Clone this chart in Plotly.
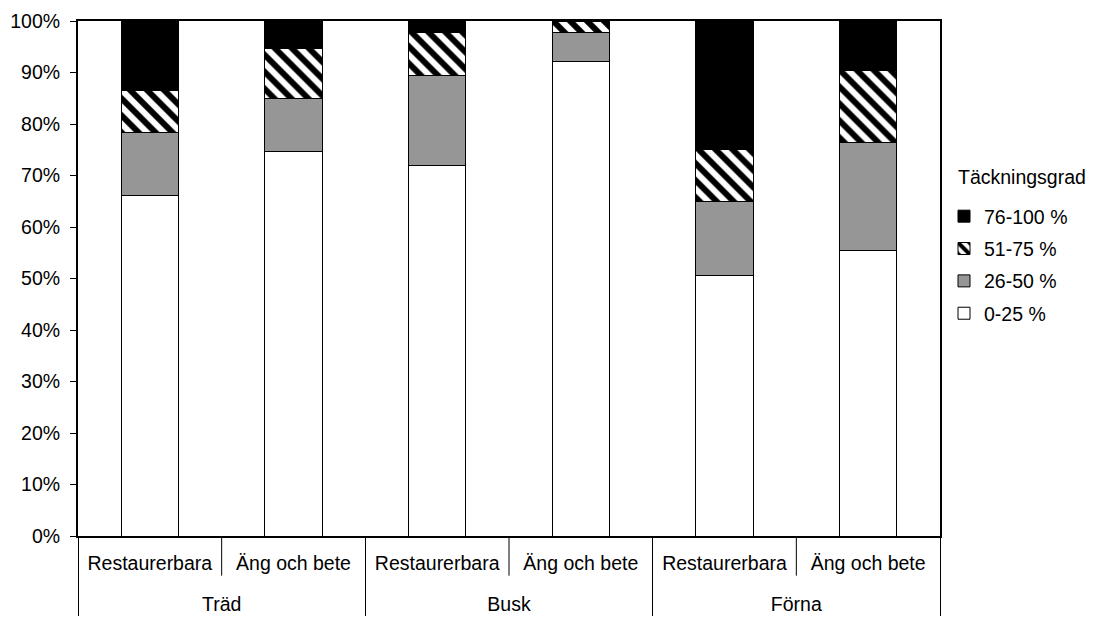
import plotly.graph_objects as go

outer = ["Träd", "Träd", "Busk", "Busk", "Förna", "Förna"]
inner = ["Restaurerbara", "Äng och bete"] * 3

series_names = ["0-25 %", "26-50 %", "51-75 %", "76-100 %"]
v_0_25 = [66.2, 74.7, 72.0, 92.1, 50.5, 55.4]
v_26_50 = [12.2, 10.2, 17.5, 5.7, 14.4, 21.1]
v_51_75 = [8.1, 9.7, 8.2, 2.2, 10.1, 13.9]
v_76_100 = [13.5, 5.4, 2.3, 0.0, 25.0, 9.6]

y_ticks = [0, 10, 20, 30, 40, 50, 60, 70, 80, 90, 100]

FONT = "Arial, Liberation Sans, sans-serif"
FS = 19.5
OFF = 8  # default page body margin

fig = go.Figure()
styles = [
    dict(color="white"),
    dict(color="#969696"),
    dict(color="white", pattern=dict(shape="\\", fgcolor="black", bgcolor="white",
                                      fgopacity=1, size=12, solidity=0.5, fillmode="overlay")),
    dict(color="black"),
]
ranks = [4, 3, 2, 1]
for name, vals, st, rk in zip(series_names, [v_0_25, v_26_50, v_51_75, v_76_100], styles, ranks):
    fig.add_trace(go.Bar(
        x=[["<br>" + o for o in outer], inner], y=vals, name=name, legendrank=rk,
        legendgroup=name,
        marker=dict(line=dict(color="black", width=1), **st),
    ))

fig.update_layout(
    barmode="stack",
    bargap=0.6,
    width=1094 - OFF, height=617 - OFF,
    margin=dict(l=78 - OFF, r=154, t=21 - OFF, b=81),
    plot_bgcolor="white", paper_bgcolor="white",
    font=dict(family=FONT, size=FS, color="black"),
    legend=dict(
        traceorder="grouped", tracegroupgap=4, bgcolor="rgba(0,0,0,0)",
        x=1.0 + 4 / 862, xanchor="left", y=(536 - 265) / 515, yanchor="middle",
        font=dict(size=FS), itemwidth=30,
    ),
    annotations=[dict(text="Täckningsgrad", xref="paper", yref="paper",
                      x=1.0 + (956 - 940) / 862, xanchor="left",
                      y=(536 - 177) / 515, yanchor="middle", showarrow=False,
                      font=dict(size=FS))],
)
fig.update_yaxes(
    range=[0, 100], tickvals=y_ticks, ticktext=[f"{t}%" for t in y_ticks],
    ticks="outside", ticklen=6, tickcolor="black", tickwidth=1,
    showgrid=False, zeroline=False, automargin=False, ticklabelstandoff=6,
    showline=True, linecolor="black", linewidth=2, mirror=True,
    tickfont=dict(size=FS),
)
fig.update_xaxes(
    type="multicategory", ticks="", showgrid=False, automargin=False,
    showline=True, linecolor="black", linewidth=2, mirror=True,
    showdividers=True, dividercolor="black", dividerwidth=1,
    ticklabelstandoff=9,
    tickfont=dict(size=FS),
)
for xv in [0.5, 2.5, 4.5]:
    fig.add_shape(type="line", xref="x", yref="paper", x0=xv, x1=xv, y0=0, y1=-0.077,
                  line=dict(color="black", width=1))

fig.write_html("out.html")
